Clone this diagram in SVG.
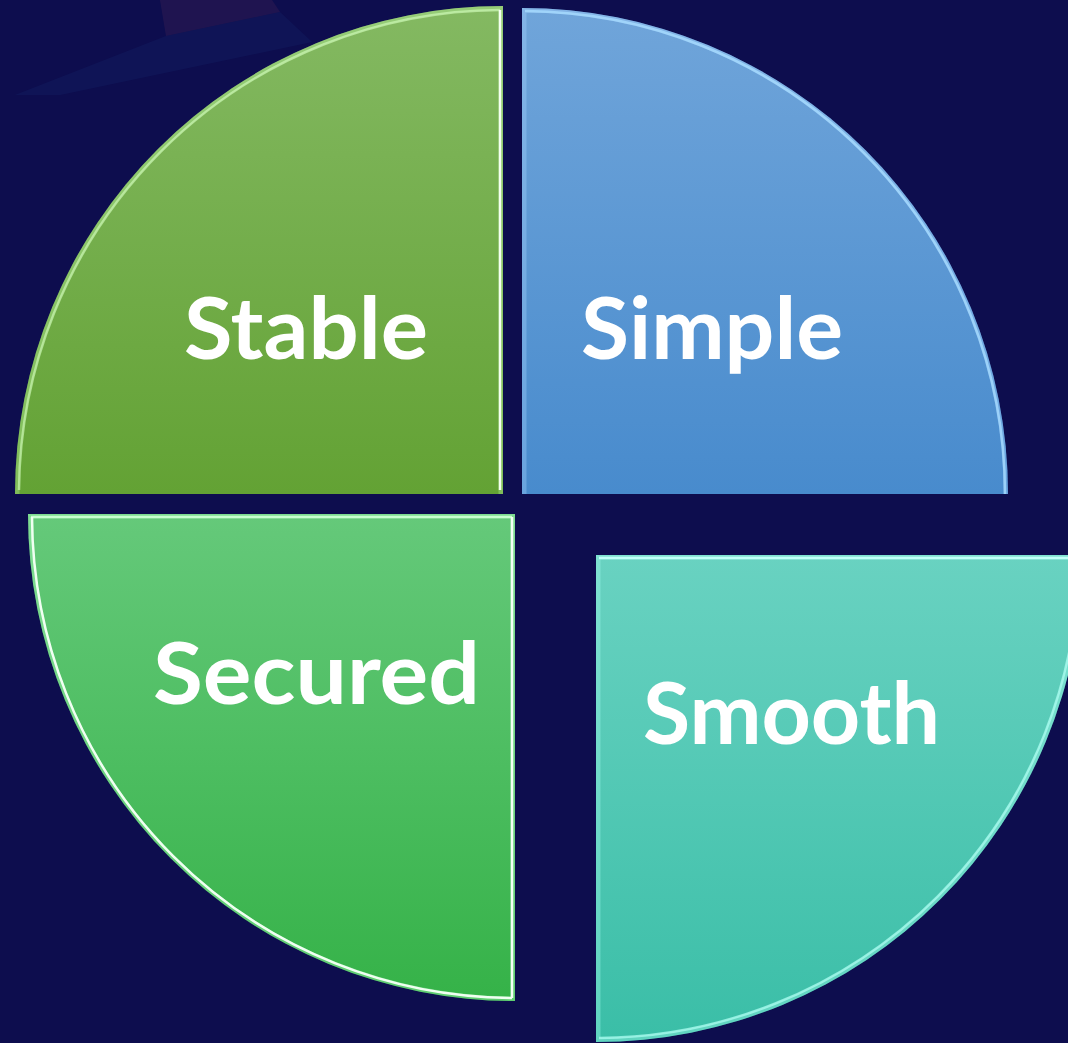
<svg xmlns="http://www.w3.org/2000/svg" width="1068" height="1043" viewBox="0 0 1068 1043">
  <defs>
    <linearGradient id="gStable" x1="0" y1="0" x2="0" y2="1">
      <stop offset="0" stop-color="#84b962"/>
      <stop offset="1" stop-color="#63a234"/>
    </linearGradient>
    <linearGradient id="gSimple" x1="0" y1="0" x2="0" y2="1">
      <stop offset="0" stop-color="#70a5da"/>
      <stop offset="1" stop-color="#488bcd"/>
    </linearGradient>
    <linearGradient id="gSecured" x1="0" y1="0" x2="0" y2="1">
      <stop offset="0" stop-color="#65c97a"/>
      <stop offset="1" stop-color="#35b248"/>
    </linearGradient>
    <linearGradient id="gSmooth" x1="0" y1="0" x2="0" y2="1">
      <stop offset="0" stop-color="#69d2c1"/>
      <stop offset="1" stop-color="#3abea7"/>
    </linearGradient>
    <clipPath id="cStable"><path d="M503,494 L15,494 A488,488 0 0 1 503,6 Z"/></clipPath>
    <clipPath id="cSimple"><path d="M522,494 L522,8 A486,486 0 0 1 1008,494 Z"/></clipPath>
    <clipPath id="cSecured"><path d="M515,514 L28,514 A487,487 0 0 0 515,1001 Z"/></clipPath>
    <clipPath id="cSmooth"><path d="M596,555 L1083,555 A487,487 0 0 1 596,1042 Z"/></clipPath>
  </defs>
  <style>
    .lbl { font-family: "Lato", "Liberation Sans", sans-serif; font-weight: 700; font-size: 86px; fill: #ffffff; }
    .hl { fill: none; stroke-width: 2.5; }
    .band { fill: none; stroke-width: 9; opacity: 0.35; }
  </style>
  <rect width="1068" height="1043" fill="#0d0d4e"/>
  <g id="background" opacity="0.35">
    <polygon points="160,0 272,0 280,12 166,36" fill="#7a3a5a" opacity="0.5"/>
    <polygon points="15,95 166,36 280,12 312,42 60,95" fill="#1a3a80" opacity="0.5"/>
  </g>

  <g id="node-stable">
    <path d="M503,494 L15,494 A488,488 0 0 1 503,6 Z" fill="url(#gStable)"/>
    <g clip-path="url(#cStable)">
      <path class="band" d="M15,494 A488,488 0 0 1 503,6 L503,494" stroke="#b8f0a0"/>
      <path class="hl" d="M19,490 A484,484 0 0 1 500,10" stroke="#d6ffc0" opacity="0.6"/>
      <path class="hl" d="M500,10 L500,490" stroke="#f4fff0"/>
    </g>
    <text class="lbl" x="184" y="359" textLength="244" lengthAdjust="spacingAndGlyphs">Stable</text>
  </g>

  <g id="node-simple">
    <path d="M522,494 L522,8 A486,486 0 0 1 1008,494 Z" fill="url(#gSimple)"/>
    <g clip-path="url(#cSimple)">
      <path class="band" d="M522,494 L522,8 A486,486 0 0 1 1008,494" stroke="#a8d4ff"/>
      <path class="hl" d="M525,11 A483,483 0 0 1 1005,494" stroke="#a8dcff" opacity="0.8"/>
    </g>
    <text class="lbl" x="581" y="359" textLength="262" lengthAdjust="spacingAndGlyphs">Simple</text>
  </g>

  <g id="node-secured">
    <path d="M515,514 L28,514 A487,487 0 0 0 515,1001 Z" fill="url(#gSecured)"/>
    <g clip-path="url(#cSecured)">
      <path class="band" d="M515,1001 A487,487 0 0 1 28,514 L515,514 L515,1001" stroke="#b0ffc0"/>
      <path class="hl" d="M31,517 L512,517" stroke="#c8ffd0"/>
      <path class="hl" d="M32,517 A483,483 0 0 0 512,998" stroke="#f0fff2" stroke-width="3"/>
      <path class="hl" d="M512,517 L512,998" stroke="#f4fff6"/>
    </g>
    <text class="lbl" x="153" y="704" textLength="327" lengthAdjust="spacingAndGlyphs">Secured</text>
  </g>

  <g id="node-smooth">
    <path d="M596,555 L1083,555 A487,487 0 0 1 596,1042 Z" fill="url(#gSmooth)"/>
    <g clip-path="url(#cSmooth)">
      <path class="band" d="M596,1042 L596,555 L1083,555 A487,487 0 0 1 596,1042" stroke="#a8fff0"/>
      <path class="hl" d="M599,558 L1080,558" stroke="#c0fff8"/>
      <path class="hl" d="M1079,558 A483,483 0 0 1 599,1038" stroke="#b0fff4" opacity="0.7"/>
    </g>
    <text class="lbl" x="643" y="744" textLength="297" lengthAdjust="spacingAndGlyphs">Smooth</text>
  </g>

  <g id="connectors"/>
</svg>
